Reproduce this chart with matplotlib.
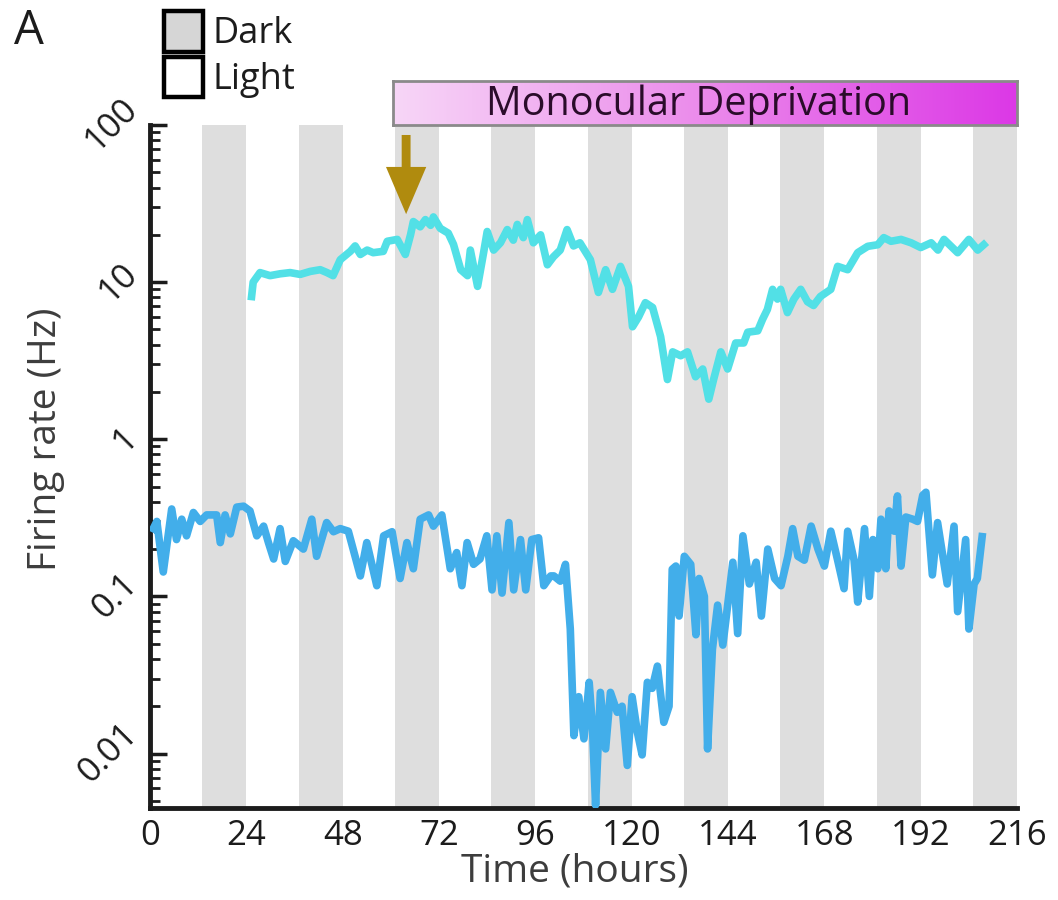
import numpy as np
import matplotlib
matplotlib.use("Agg")
import matplotlib.pyplot as plt
from matplotlib.patches import Patch
from matplotlib.colors import LinearSegmentedColormap
from matplotlib.ticker import FixedLocator, LogLocator, NullFormatter

plt.rcParams['font.family'] = ['Open Sans', 'DejaVu Sans']

# hourly firing rate traces for two units (time in hours, rate in Hz)
t_high = [25.3, 25.7, 27.4, 29.9, 32.4, 34.9, 37.4, 39.9, 42.4, 44.1, 45.6, 47.4, 49.9,
          51.1, 52.4, 54.1, 55.6, 58.1, 59.1, 61.6, 63.6, 64.9, 65.6, 67.3, 68.6, 69.9,
          70.6, 72.3, 74.3, 75.6, 77.4, 79.1, 79.8, 81.6, 83.1, 84.0, 85.6, 87.3, 89.0,
          90.5, 91.5, 93.0, 94.0, 95.5, 97.3, 99.0, 100.5, 102.2, 103.9, 105.5, 107.1,
          109.7, 111.7, 113.5, 115.2, 117.2, 119.2, 120.2, 121.7, 123.4, 125.2, 127.2,
          128.9, 130.2, 132.2, 133.9, 135.9, 137.7, 139.2, 140.4, 142.2, 143.9, 145.9,
          147.9, 148.9, 151.4, 152.6, 153.8, 155.1, 156.3, 157.1, 158.8, 160.4, 162.1,
          163.8, 165.3, 167.0, 169.6, 171.3, 173.8, 176.3, 178.8, 181.3, 182.8, 184.6,
          187.1, 189.6, 192.0, 194.6, 196.3, 197.8, 201.2, 204.0, 206.2, 207.7]
fr_high = [8.1, 10, 11.5, 11, 11.3, 11.5, 11.2, 11.7, 12, 11.5, 11, 13.9, 15.7,
           17, 15, 16, 15.4, 15.7, 18.2, 18.7, 15, 20, 24.3, 22.5, 25, 23,
           26, 22, 20.5, 17.4, 12, 11, 16, 9.4, 15.4, 21, 16, 17.8, 21.6,
           18.5, 23.3, 19.2, 25, 17.8, 20, 12.9, 14.5, 16, 21.6, 17, 17.8,
           13.9, 8.6, 12, 9.0, 12.6, 9.4, 5.2, 6, 7.4, 6.9, 4.5,
           2.4, 3.6, 3.4, 3.6, 2.5, 2.8, 1.8, 2.4, 3.6, 2.8, 4.1,
           4.1, 4.8, 4.9, 5.8, 6.7, 9, 7.8, 9, 6.4, 7.8, 9,
           7.5, 7.1, 8.1, 9, 12.6, 12, 15.4, 16.9, 17.3, 19.2, 18.2,
           18.7, 17.8, 16.6, 17.8, 16, 18.7, 15.4, 18.7, 16, 17.3]

t_low = [0.8, 1.7, 3.3, 5.4, 6.6, 7.9, 9.1, 10.8, 12.5, 14.1, 16.6, 17.5, 18.7, 20.0,
         21.6, 23.3, 24.9, 26.6, 28.3, 29.5, 30.8, 32.4, 33.7, 35.7, 38.2, 40.3, 41.5,
         44.0, 45.7, 47.4, 49.4, 52.4, 54.0, 56.5, 58.2, 60.3, 62.3, 64.0, 65.6, 67.3,
         69.4, 70.6, 72.7, 74.8, 76.4, 77.7, 79.0, 80.6, 82.2, 83.9, 85.2, 86.4, 87.7,
         89.4, 90.6, 92.3, 93.6, 95.1, 96.8, 98.1, 99.8, 100.6, 102.2, 103.5, 104.7,
         105.6, 106.8, 108.1, 109.4, 110.2, 111.0, 112.2, 113.5, 114.7, 116.4, 117.6,
         118.9, 120.1, 121.4, 122.6, 123.9, 125.1, 126.4, 128.0, 129.3, 130.1, 131.0,
         131.8, 133.1, 134.7, 136.0, 136.8, 138.1, 138.9, 140.1, 141.4, 142.7, 145.2,
         146.4, 147.7, 149.3, 151.0, 152.3, 153.9, 155.6, 157.2, 158.9, 160.1, 161.4,
         163.0, 164.7, 166.4, 168.0, 169.6, 171.3, 172.9, 173.8, 175.4, 176.3, 178.0,
         179.2, 180.1, 181.3, 182.1, 183.3, 184.1, 185.4, 186.2, 187.1, 188.3, 190.0,
         191.2, 192.5, 193.3, 194.9, 196.2, 198.6, 200.3, 201.2, 203.2, 204.0, 205.3,
         206.1, 207.3]
fr_low = [0.27, 0.30, 0.143, 0.36, 0.23, 0.31, 0.243, 0.342, 0.30, 0.33, 0.33, 0.22, 0.33, 0.25,
          0.37, 0.375, 0.35, 0.243, 0.28, 0.22, 0.173, 0.27, 0.167, 0.226, 0.20, 0.31, 0.18,
          0.295, 0.258, 0.27, 0.26, 0.135, 0.22, 0.117, 0.243, 0.258, 0.13, 0.22, 0.15, 0.31,
          0.33, 0.28, 0.33, 0.15, 0.19, 0.117, 0.22, 0.16, 0.173, 0.243, 0.11, 0.243, 0.105,
          0.295, 0.11, 0.23, 0.11, 0.23, 0.236, 0.117, 0.135, 0.135, 0.125, 0.16, 0.062,
          0.013, 0.023, 0.0124, 0.0284, 0.0152, 0.0047, 0.0245, 0.0107, 0.0245, 0.0183, 0.02,
          0.0084, 0.023, 0.0137, 0.0098, 0.0284, 0.026, 0.036, 0.0158, 0.02, 0.149, 0.156,
          0.075, 0.18, 0.16, 0.057, 0.13, 0.10, 0.0107, 0.046, 0.088, 0.049, 0.165,
          0.058, 0.243, 0.12, 0.165, 0.075, 0.20, 0.13, 0.117, 0.18, 0.27, 0.18,
          0.17, 0.28, 0.2, 0.156, 0.26, 0.17, 0.112, 0.26, 0.17, 0.092, 0.27,
          0.10, 0.23, 0.15, 0.31, 0.15, 0.35, 0.26, 0.436, 0.156, 0.32, 0.31,
          0.30, 0.44, 0.46, 0.137, 0.295, 0.12, 0.28, 0.08, 0.23, 0.062, 0.12,
          0.13, 0.24]

# light/dark schedule (hours)
dark_on = [13, 37, 61, 85, 109, 133, 157, 181, 205]
dark_off = [24, 48, 72, 96, 120, 144, 168, 192, 216]
md_start, md_end = 60.6, 216
md_onset = 63.8

x_ticks = [0, 24, 48, 72, 96, 120, 144, 168, 192, 216]
y_ticks = [0.01, 0.1, 1, 10, 100]
y_labels = ['0.01', '0.1', '1', '10', '100']

dark_grey = '#dedede'
ink = '#1c1c1c'
label_grey = '#3d3d3d'

fig = plt.figure(figsize=(10.58, 9), dpi=100)
ax = fig.add_axes([0.1418, 0.1022, 0.8195, 0.7589])

for a, b in zip(dark_on, dark_off):
    ax.axvspan(a, b, color=dark_grey, lw=0, zorder=0)

ax.plot(t_high, fr_high, color='#52e0e6', lw=5.5, solid_joinstyle='round', zorder=3)
ax.plot(t_low, fr_low, color='#42aeea', lw=5.5, solid_joinstyle='round', zorder=3)

ax.set_yscale('log')
ax.set_xlim(0, 216)
ax.set_ylim(0.0045, 100)

ax.xaxis.set_major_locator(FixedLocator(x_ticks))
ax.set_xticklabels([str(v) for v in x_ticks])
ax.yaxis.set_major_locator(FixedLocator(y_ticks))
ax.set_yticklabels(y_labels, rotation=45, ha='right', va='center')
ax.yaxis.set_minor_locator(LogLocator(base=10, subs=np.arange(2, 10)))
ax.yaxis.set_minor_formatter(NullFormatter())

ax.tick_params(axis='x', length=0, pad=8, labelsize=25, labelcolor=ink)
ax.tick_params(axis='y', which='major', direction='in', length=12, width=2.5,
               color=ink, pad=4, labelsize=25, labelcolor=ink)
ax.tick_params(axis='y', which='minor', direction='in', length=7, width=2, color=ink)

for side in ['top', 'right']:
    ax.spines[side].set_visible(False)
for side in ['left', 'bottom']:
    ax.spines[side].set_linewidth(3.5)
    ax.spines[side].set_color(ink)

ax.set_xlabel('Time (hours)', fontsize=28, color=label_grey)
ax.set_ylabel('Firing rate (Hz)', fontsize=28, color=label_grey)
ax.xaxis.set_label_coords(0.49, -0.065)
ax.yaxis.set_label_coords(-0.098, 0.54)

# monocular deprivation bar above the plot
bar = ax.inset_axes([md_start, 1.0, md_end - md_start, 0.065],
                    transform=ax.get_xaxis_transform())
md_cmap = LinearSegmentedColormap.from_list('md', ['#f7d6f7', '#eb8aeb', '#dc38e6'])
bar.imshow(np.linspace(0, 1, 256)[None, :], aspect='auto', cmap=md_cmap,
           extent=[0, 1, 0, 1])
bar.set_xticks([])
bar.set_yticks([])
for s in bar.spines.values():
    s.set_color('#8a8a8a')
    s.set_linewidth(2)
bar.text(0.49, 0.46, 'Monocular Deprivation', ha='center', va='center',
         fontsize=28.5, color='#2a0c2a', transform=bar.transAxes)

# arrow marking deprivation onset
ax.annotate('', xy=(md_onset, 26), xytext=(md_onset, 90),
            arrowprops=dict(arrowstyle='simple,head_length=1.7,head_width=1.45,tail_width=0.32',
                            mutation_scale=20, color='#b08b0e', lw=0),
            zorder=4, annotation_clip=False)

# light/dark key
handles = [Patch(facecolor='#d6d6d6', edgecolor='black', linewidth=3.2),
           Patch(facecolor='white', edgecolor='black', linewidth=3.2)]
fig.legend(handles, ['Dark', 'Light'], loc='upper left',
           bbox_to_anchor=(164 / 1058, 1 - 11 / 900), frameon=False,
           fontsize=26, handlelength=1.08, handleheight=1.35, handletextpad=0.25,
           labelspacing=0.12, borderpad=0, borderaxespad=0, labelcolor=ink)

fig.text(14 / 1058, 1 - 31 / 900, 'A', fontsize=34, color=ink, va='center', ha='left')

fig.savefig('out.png', dpi=100)
